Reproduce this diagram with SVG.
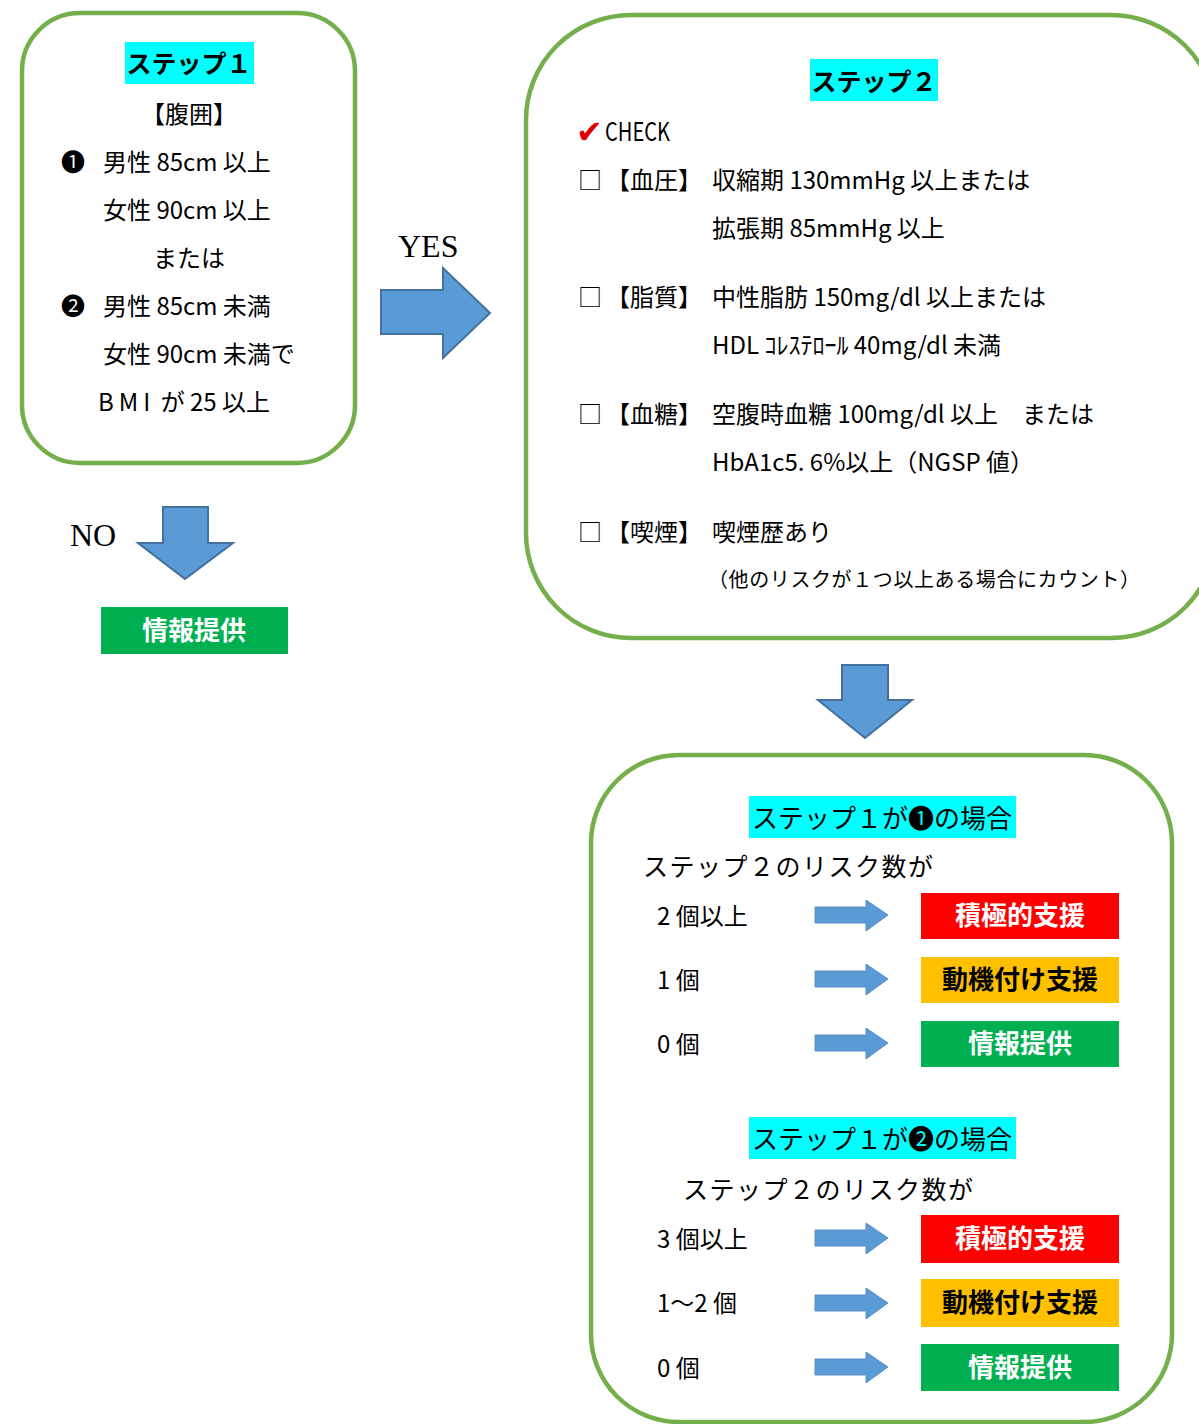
<svg xmlns="http://www.w3.org/2000/svg" width="1199" height="1424" viewBox="0 0 1199 1424">
<style>
text{font-family:"Noto Sans CJK JP","Noto Sans",sans-serif;fill:#000}
.frame{fill:#fff;stroke:#74AF4B;stroke-width:4.5}
.t{font-size:24px}
.hd{font-size:25px;font-weight:bold}
.hl{fill:#00FFFF}
.serif{font-family:"Liberation Serif","DejaVu Serif",serif;font-size:32px}
.big{fill:#5B9BD5;stroke:#41719C;stroke-width:2}
.sm{fill:#5B9BD5;stroke:#5A8FC6;stroke-width:1}
.lbl{font-size:26px;font-weight:bold;text-anchor:middle}
.w{fill:#fff}
.c{text-anchor:middle}
</style>
<rect width="1199" height="1424" fill="#fff"/>

<g id="step1">
<rect class="frame" x="22" y="13" width="333" height="450" rx="58"/>
<rect class="hl" x="125" y="42" width="129" height="42"/>
<text class="hd c" x="189" y="73">ステップ１</text>
<text class="t c" x="189" y="123">【腹囲】</text>
<text class="t" x="61" y="171">❶</text>
<text class="t" x="103" y="171">男性 85cm 以上</text>
<text class="t" x="103" y="219">女性 90cm 以上</text>
<text class="t c" x="189" y="267">または</text>
<text class="t" x="61" y="315">❷</text>
<text class="t" x="103" y="315">男性 85cm 未満</text>
<text class="t" x="103" y="363">女性 90cm 未満で</text>
<text class="t" x="98" y="411"><tspan style="letter-spacing:5px">BMI</tspan> が 25 以上</text>
</g>

<g id="info0">
<rect x="101" y="607" width="187" height="47" fill="#00B050"/>
<text class="lbl w" x="194" y="640">情報提供</text>
</g>

<g id="step2">
<rect class="frame" x="526" y="15" width="690" height="623" rx="105"/>
<rect class="hl" x="810" y="59" width="128" height="42"/>
<text class="hd c" x="874" y="91">ステップ２</text>
<text x="576" y="143" style="font-family:'DejaVu Sans',sans-serif;font-size:32px;font-weight:bold;fill:#E00000">✔</text>
<text x="605" y="141" textLength="65" lengthAdjust="spacingAndGlyphs" style="font-size:26px">CHECK</text>
<text class="t" x="578" y="189">□</text><text class="t" x="606" y="189">【血圧】</text>
<text class="t" x="712" y="189">収縮期 130mmHg 以上または</text>
<text class="t" x="712" y="237">拡張期 85mmHg 以上</text>
<text class="t" x="578" y="306">□</text><text class="t" x="606" y="306">【脂質】</text>
<text class="t" x="712" y="306">中性脂肪 150mg/dl 以上または</text>
<text class="t" x="712" y="354">HDL ｺﾚｽﾃﾛｰﾙ 40mg/dl 未満</text>
<text class="t" x="578" y="423">□</text><text class="t" x="606" y="423">【血糖】</text>
<text class="t" x="712" y="423">空腹時血糖 100mg/dl 以上　または</text>
<text class="t" x="712" y="471">HbA1c5. 6%以上（NGSP 値）</text>
<text class="t" x="578" y="541">□</text><text class="t" x="606" y="541">【喫煙】</text>
<text class="t" x="712" y="541">喫煙歴あり</text>
<text x="708" y="587" style="font-size:20px;letter-spacing:0.6px">（他のリスクが１つ以上ある場合にカウント）</text>
</g>

<g id="step3">
<rect class="frame" x="591" y="755" width="581" height="667" rx="88"/>
<rect class="hl" x="749" y="796" width="267" height="42"/>
<text x="882" y="828" class="c" style="font-size:26px">ステップ１が❶の場合</text>
<text x="643" y="876" style="font-size:25px;letter-spacing:1.5px">ステップ２のリスク数が</text>
<text class="t" x="657" y="925">2 個以上</text>
<text class="t" x="657" y="989">1 個</text>
<text class="t" x="657" y="1053">0 個</text>
<rect class="hl" x="749" y="1117" width="267" height="42"/>
<text x="882" y="1149" class="c" style="font-size:26px">ステップ１が❷の場合</text>
<text x="683" y="1199" style="font-size:25px;letter-spacing:1.5px">ステップ２のリスク数が</text>
<text class="t" x="657" y="1248">3 個以上</text>
<text class="t" x="657" y="1312">1～2 個</text>
<text class="t" x="657" y="1377">0 個</text>
</g>

<g id="r1a"><rect x="921" y="893" width="198" height="46" fill="#FF0000"/><text class="lbl w" x="1020" y="925">積極的支援</text></g>
<g id="r1b"><rect x="921" y="957" width="198" height="46" fill="#FFC000"/><text class="lbl" x="1020" y="989">動機付け支援</text></g>
<g id="r1c"><rect x="921" y="1021" width="198" height="46" fill="#00B050"/><text class="lbl w" x="1020" y="1053">情報提供</text></g>
<g id="r2a"><rect x="921" y="1215" width="198" height="48" fill="#FF0000"/><text class="lbl w" x="1020" y="1248">積極的支援</text></g>
<g id="r2b"><rect x="921" y="1279" width="198" height="48" fill="#FFC000"/><text class="lbl" x="1020" y="1312">動機付け支援</text></g>
<g id="r2c"><rect x="921" y="1344" width="198" height="47" fill="#00B050"/><text class="lbl w" x="1020" y="1377">情報提供</text></g>

<g id="connectors">
<text class="serif" x="398" y="257">YES</text>
<polygon class="big" points="381,290 443,290 443,268 490,313 443,358 443,334 381,334"/>
<text class="serif" x="70" y="546">NO</text>
<polygon class="big" points="163,507 208,507 208,543 233,543 185,579 138,543 163,543"/>
<polygon class="big" points="842,665 888,665 888,700 912,700 865,738 818,700 842,700"/>
<polygon class="sm" points="815,907 866,907 866,900 888,915 866,931 866,923 815,923"/>
<polygon class="sm" points="815,971 866,971 866,964 888,979 866,995 866,987 815,987"/>
<polygon class="sm" points="815,1035 866,1035 866,1028 888,1043 866,1059 866,1051 815,1051"/>
<polygon class="sm" points="815,1230 866,1230 866,1223 888,1238 866,1254 866,1246 815,1246"/>
<polygon class="sm" points="815,1295 866,1295 866,1288 888,1303 866,1319 866,1311 815,1311"/>
<polygon class="sm" points="815,1359 866,1359 866,1352 888,1367 866,1383 866,1375 815,1375"/>
</g>
</svg>
